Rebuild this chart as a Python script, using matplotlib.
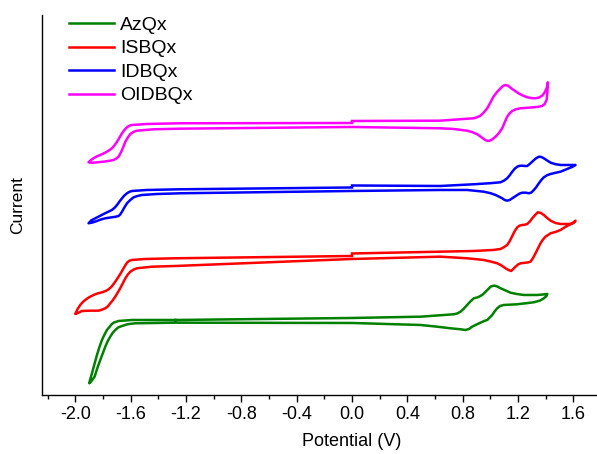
import matplotlib
matplotlib.use("Agg")
from matplotlib import pyplot as plt
from matplotlib.ticker import MultipleLocator

plt.rcParams['font.family'] = ['Liberation Sans', 'DejaVu Sans']

# cyclic voltammograms, potential in V, current in arbitrary units (curves stacked)
azqx_v = [-1.277, -1.59, -1.687, -1.72, -1.735, -1.771, -1.79, -1.807, -1.825, -1.843,
          -1.862, -1.879, -1.893, -1.899,
          -1.885, -1.86, -1.84, -1.819, -1.80, -1.783, -1.765, -1.747, -1.73, -1.711,
          -1.69, -1.662, -1.62, -1.566, -1.277,
          0.0, 0.495, 0.615, 0.711, 0.784, 0.82, 0.845, 0.868, 0.90, 0.928, 0.955,
          0.977, 0.995, 1.013, 1.03, 1.049, 1.07, 1.097, 1.194, 1.314, 1.36, 1.386,
          1.405, 1.411,
          1.38, 1.338, 1.241, 1.19, 1.145, 1.11, 1.073, 1.05, 1.03, 1.015, 1.001,
          0.985, 0.965, 0.945, 0.928, 0.905, 0.88, 0.855, 0.832, 0.805, 0.784, 0.76,
          0.735, 0.495, 0.0, -1.277]
azqx_i = [75, 75, 74, 72.5, 71, 65, 60, 55, 48, 40,
          30.5, 21.7, 15, 11.7,
          13.5, 18.3, 27, 35, 42, 48.3, 54, 58.3, 62, 65,
          67.5, 69, 70.8, 71.7, 72.3,
          72, 70, 68.3, 66.7, 65.7, 65, 66, 68.3, 70.5, 72.3, 74,
          75, 77.5, 80, 83.5, 86.7, 89, 90, 90.7, 92.7, 94.5, 96.7,
          99, 101,
          100.5, 100, 100, 101, 102.3, 104.5, 106.7, 108.5, 109.3, 109, 108.3,
          106, 103.3, 100.5, 99, 97.5, 96.7, 93.5, 90, 86, 83.3, 81.5,
          80.7, 78.3, 77, 75]

isbqx_v = [0.0, 0.639, 0.878, 1.02, 1.073, 1.10, 1.121, 1.14, 1.158, 1.176, 1.194,
           1.21, 1.23, 1.25, 1.266, 1.285, 1.302, 1.323, 1.343, 1.365, 1.386, 1.41,
           1.435, 1.47, 1.507, 1.579, 1.60, 1.615,
           1.595, 1.567, 1.535, 1.507, 1.47, 1.435, 1.398, 1.38, 1.362, 1.345, 1.326,
           1.308, 1.29, 1.27, 1.254, 1.218, 1.20, 1.181, 1.165, 1.15, 1.13, 1.109,
           1.08, 1.049, 1.0, 0.952, 0.832, 0.639, 0.0,
           -1.277, -1.445, -1.554, -1.58, -1.602, -1.62, -1.638, -1.657, -1.675,
           -1.693, -1.711, -1.73, -1.747, -1.765, -1.783, -1.81, -1.832, -1.892,
           -1.952, -1.98, -2.0,
           -1.985, -1.964, -1.945, -1.928, -1.9, -1.868, -1.84, -1.807, -1.78, -1.759,
           -1.74, -1.723, -1.705, -1.687, -1.668, -1.651, -1.638, -1.626, -1.61,
           -1.59, -1.494, -1.277, 0.0]
isbqx_i = [141.5, 143.3, 144, 145, 146, 148, 150, 154, 159, 164, 167.7,
           169.3, 170, 170.3, 171, 173.5, 176.7, 180, 182.7, 182, 180, 177,
           174.3, 172, 171, 171, 172, 174.3,
           172, 170, 167.5, 165, 163, 161.7, 158.3, 155.5, 151.7, 147, 141.7,
           137, 133.3, 132.5, 132.3, 131.7, 130.5, 128.3, 126, 124, 125, 126.7,
           129.5, 131.7, 133.5, 135, 136.7, 138.3, 136,
           129, 128.3, 126.7, 125.3, 123.3, 120.5, 116.7, 111.5, 106.7,
           102.5, 98.3, 94.5, 91.7, 88.5, 86.7, 85.2, 84.3, 84.3,
           84, 82, 81,
           85.5, 90, 93, 95, 97.7, 100, 101.5, 102.7, 104, 105.7,
           108, 111, 114.5, 118.3, 122.5, 126.7, 129.7, 132.3, 134.2,
           135, 136, 136.7, 139]

idbqx_v = [0.0, 0.639, 0.878, 1.0, 1.073, 1.10, 1.121, 1.14, 1.158, 1.176, 1.194,
           1.212, 1.23, 1.248, 1.266, 1.284, 1.302, 1.326, 1.35, 1.368, 1.386, 1.41,
           1.435, 1.47, 1.507, 1.579, 1.615,
           1.595, 1.567, 1.537, 1.507, 1.47, 1.435, 1.41, 1.386, 1.368, 1.35, 1.332,
           1.314, 1.296, 1.278, 1.255, 1.23, 1.212, 1.194, 1.176, 1.158, 1.14, 1.121,
           1.103, 1.085, 1.06, 1.037, 1.0, 0.952, 0.832, 0.639, 0.0,
           -1.241, -1.409, -1.518, -1.55, -1.578, -1.602, -1.626, -1.645, -1.662,
           -1.675, -1.687, -1.71, -1.735, -1.783, -1.815, -1.843, -1.875, -1.904,
           -1.885, -1.855, -1.825, -1.795, -1.765, -1.735, -1.715, -1.698, -1.68,
           -1.662, -1.645, -1.626, -1.608, -1.59, -1.482, -1.241, 0.0]
idbqx_i = [209.5, 209, 210.7, 211.8, 212.7, 214.5, 216.7, 219.8, 223.3, 226.3, 228.3,
           229.2, 229.3, 229, 229, 231, 233.3, 236.3, 238.3, 238, 236.7, 234.5,
           232.3, 230.8, 230, 230, 230,
           228.3, 226.7, 225, 223.3, 222.2, 221, 219.8, 217.7, 215, 211.7, 208,
           205, 202.5, 201.7, 202.3, 202.3, 201.5, 200, 198.3, 196.7, 195, 194.3,
           195, 196.7, 198.5, 200, 201.8, 203.3, 205, 205, 204,
           201.7, 201, 200, 199, 197.7, 195, 191.7, 187.5, 183.3,
           180.5, 179, 178.2, 177.7, 176.7, 175.5, 174, 172.5, 171.7,
           174.5, 176.7, 178.8, 181, 183, 185, 187.3, 190, 193.5,
           196.7, 199.5, 201.7, 203.2, 204, 205, 205.7, 207.5]

oidbqx_v = [0.0, 0.639, 0.878, 0.905, 0.928, 0.952, 0.977, 1.0, 1.022, 1.048, 1.073,
            1.09, 1.109, 1.127, 1.145, 1.175, 1.203, 1.235, 1.266, 1.3, 1.326, 1.352,
            1.374, 1.392, 1.406, 1.413, 1.415,
            1.412, 1.406, 1.392, 1.374, 1.345, 1.312, 1.218, 1.185, 1.158, 1.14, 1.121,
            1.103, 1.085, 1.062, 1.037, 1.012, 0.988, 0.97, 0.952, 0.93, 0.905, 0.87,
            0.832, 0.735, 0.639, 0.0,
            -1.241, -1.434, -1.554, -1.58, -1.602, -1.62, -1.638, -1.65, -1.662,
            -1.675, -1.687, -1.705, -1.723, -1.76, -1.795, -1.868, -1.89, -1.904,
            -1.888, -1.868, -1.845, -1.819, -1.795, -1.771, -1.752, -1.735, -1.717,
            -1.698, -1.68, -1.662, -1.645, -1.626, -1.608, -1.59, -1.482, -1.241, 0.0]
oidbqx_i = [274, 274.3, 276.7, 277.8, 279.3, 282.5, 286.7, 292.5, 298.3, 303, 306.7,
            309, 310, 309.3, 307.3, 304.3, 301.7, 299.4, 297.7, 296.8, 296.7, 297.5,
            299.3, 302.5, 306.7, 310, 312.7,
            303, 295, 291, 289, 288.2, 287.7, 286.7, 285.8, 284, 281.8, 278.3,
            272.5, 266.7, 262, 258.3, 255.5, 254, 254.5, 256, 258.3, 260.7, 262.8,
            264.3, 266, 266.7, 268,
            266.3, 265.7, 264.3, 263, 261, 257.5, 253.3, 249, 245,
            241.2, 238.3, 236.3, 235, 234, 233.3, 232.3, 232.3, 232.7,
            234.8, 236.7, 238.5, 240, 241.5, 243.3, 245, 246.7, 249.5,
            253.3, 257.5, 261.7, 265, 267.7, 269.3, 270, 271, 271.7, 272]

names = ['AzQx', 'ISBQx', 'IDBQx', 'OIDBQx']
colors = ['#008000', '#ff0000', '#0000ff', '#ff00ff']
curves = [(azqx_v, azqx_i), (isbqx_v, isbqx_i), (idbqx_v, idbqx_i), (oidbqx_v, oidbqx_i)]
tick_vals = [-2.0, -1.6, -1.2, -0.8, -0.4, 0.0, 0.4, 0.8, 1.2, 1.6]
tick_labels = ['-2.0', '-1.6', '-1.2', '-0.8', '-0.4', '0.0', '0.4', '0.8', '1.2', '1.6']

fig = plt.figure(figsize=(5.97, 4.54), dpi=100)
# the axis runs past the right edge of the picture (x axis is symmetric about 0 V)
ax = fig.add_axes([0.0704, 0.130, 1.0385, 0.837])

for (v, i), name, c in zip(curves, names, colors):
    ax.plot(v, i, color=c, lw=1.8, label=name, solid_joinstyle='round')

ax.set_xlim(-2.24, 2.24)
ax.set_ylim(0, 380)
ax.xaxis.set_minor_locator(MultipleLocator(0.2))
ax.set_xticks(tick_vals)
ax.set_xticklabels(tick_labels)
ax.tick_params(axis='x', which='major', direction='out', length=5, width=1, labelsize=13, pad=3)
ax.tick_params(axis='x', which='minor', direction='out', length=3, width=1)
ax.set_yticks([])
ax.spines['top'].set_visible(False)
ax.spines['right'].set_visible(False)
ax.spines['left'].set_linewidth(1)
ax.spines['bottom'].set_linewidth(1)

ax.set_xlabel('Potential (V)', fontsize=13, labelpad=7)
ax.set_ylabel('Current', fontsize=12.5, labelpad=12)

ax.legend(loc='upper left', bbox_to_anchor=(0.022, 1.032), frameon=False, fontsize=14,
          handlelength=2.3, handletextpad=0.3, labelspacing=0.3, borderpad=0.2)

fig.savefig('out.png', dpi=100)
